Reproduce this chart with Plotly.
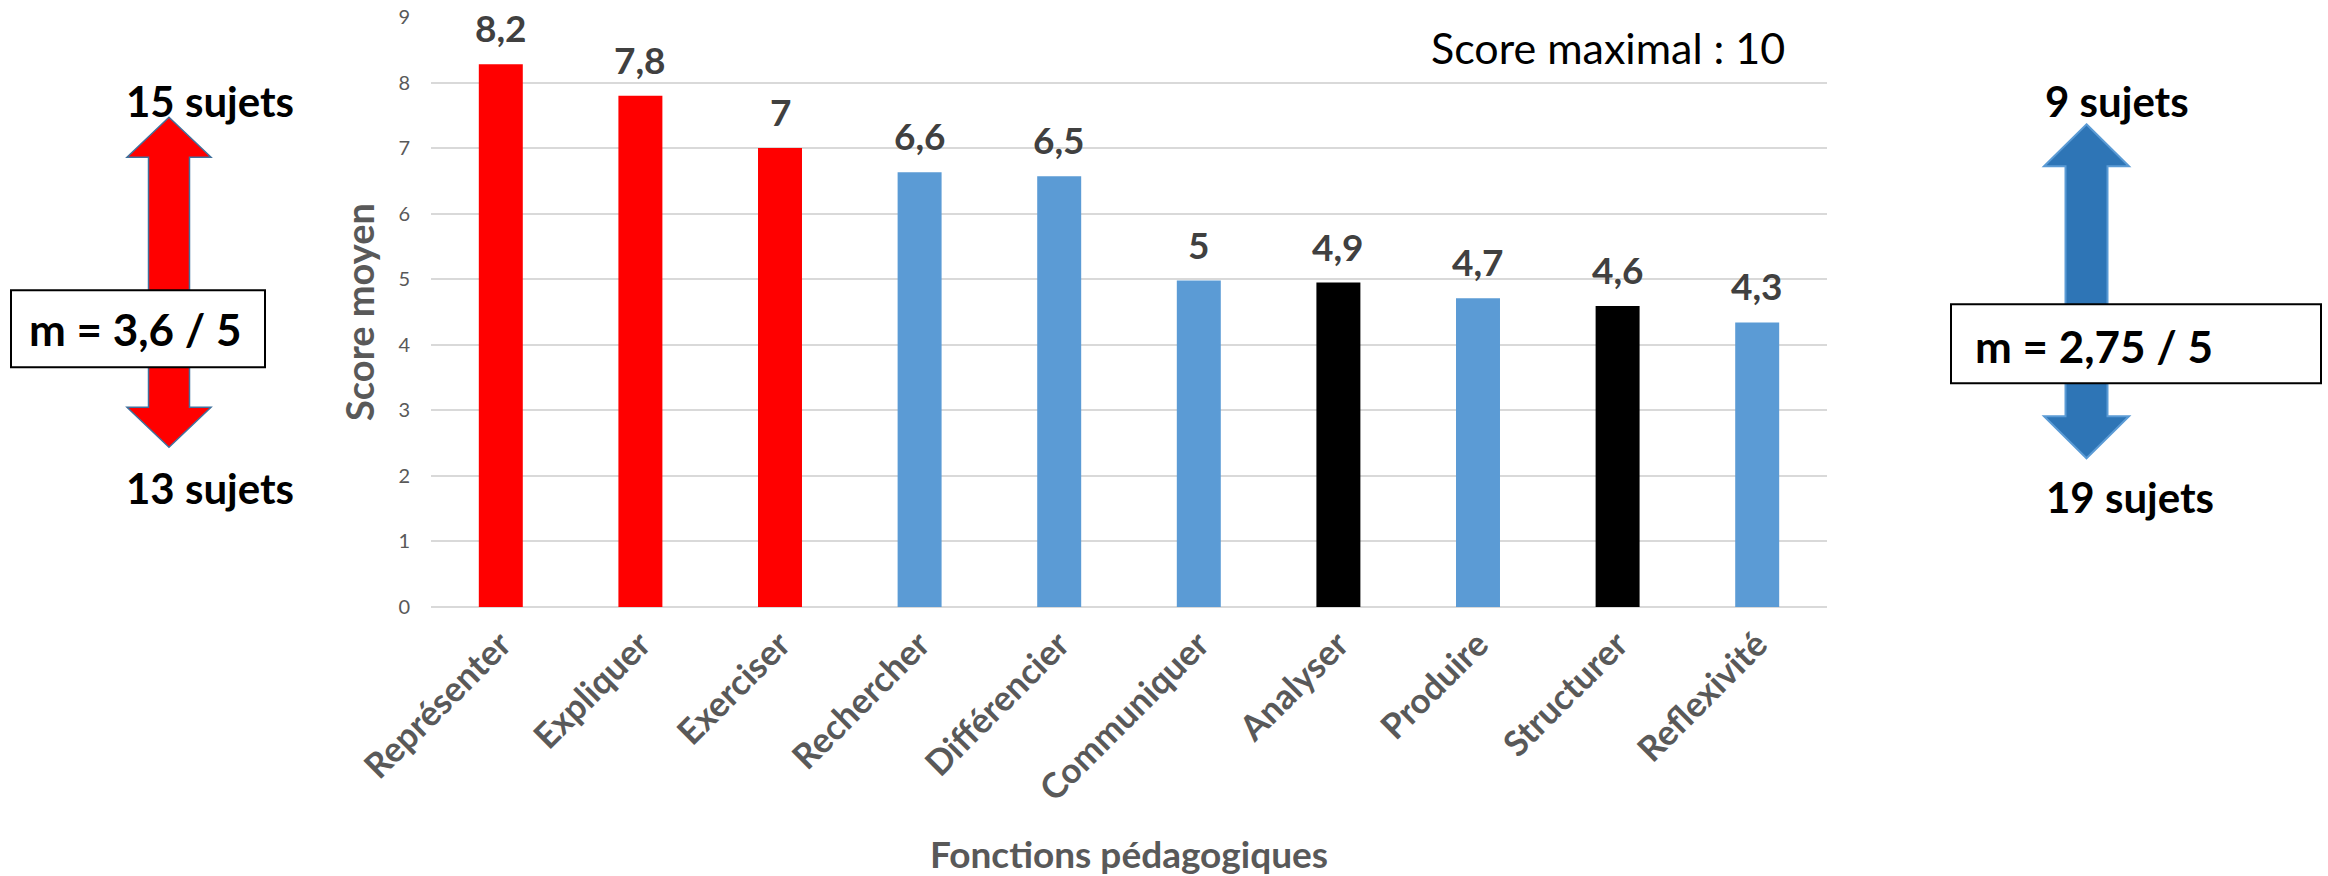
import plotly.graph_objects as go

# ---------------- data ----------------
categories = ["Représenter", "Expliquer", "Exerciser", "Rechercher", "Différencier",
              "Communiquer", "Analyser", "Produire", "Structurer", "Reflexivité"]
scores = [8.28, 7.80, 7.00, 6.63, 6.57, 4.98, 4.95, 4.71, 4.59, 4.34]
score_labels = ["8,2", "7,8", "7", "6,6", "6,5", "5", "4,9", "4,7", "4,6", "4,3"]
bar_colors = ["#FF0000", "#FF0000", "#FF0000", "#5B9BD5", "#5B9BD5",
              "#5B9BD5", "#000000", "#5B9BD5", "#000000", "#5B9BD5"]
y_ticks = [0, 1, 2, 3, 4, 5, 6, 7, 8, 9]

left_top_label = "15 sujets"
left_bottom_label = "13 sujets"
left_mean_label = "m = 3,6 / 5"
right_top_label = "9 sujets"
right_bottom_label = "19 sujets"
right_mean_label = "m = 2,75 / 5"
note_label = "Score maximal : 10"
x_title = "Fonctions pédagogiques"
y_title = "Score moyen"

# ---------------- layout geometry (pixels) ----------------
W, H = 2328, 876
L, R, T, B = 431, 1827, 16.7, 606.7


def px(x):
    return (x - L) / (R - L)


def py(y):
    return (B - y) / (B - T)


def double_arrow(cx, sw, hw, tip_top, base_top, base_bot, tip_bot):
    pts = [(cx, tip_top), (cx + hw, base_top), (cx + sw, base_top), (cx + sw, base_bot),
           (cx + hw, base_bot), (cx, tip_bot), (cx - hw, base_bot), (cx - sw, base_bot),
           (cx - sw, base_top), (cx - hw, base_top)]
    return "M " + " L ".join(f"{px(a):.5f},{py(b):.5f}" for a, b in pts) + " Z"


FONT = "Lato"
GREY = "#595959"

fig = go.Figure()
fig.add_trace(go.Bar(
    x=categories, y=scores,
    marker=dict(color=bar_colors, line=dict(width=0)),
    cliponaxis=False, showlegend=False, hoverinfo="x+y",
))

annotations = []
for c, v, t in zip(categories, scores, score_labels):
    annotations.append(dict(x=c, y=v, xref="x", yref="y", text=t, showarrow=False,
                            yanchor="bottom", yshift=12,
                            font=dict(family=FONT, size=37, color="#404040", weight="bold")))

annotations.append(dict(x=px(1787), y=py(47), xref="paper", yref="paper", text=note_label,
                        showarrow=False, xanchor="right", yanchor="middle",
                        font=dict(family=FONT, size=43, color="#000000")))

side = dict(family=FONT, size=42, color="#000000", weight="bold")
for txt, x, y in [(left_top_label, 210, 101), (left_bottom_label, 210, 488),
                  (right_top_label, 2117, 101), (right_bottom_label, 2130, 497)]:
    annotations.append(dict(x=px(x), y=py(y), xref="paper", yref="paper", text=txt,
                            showarrow=False, xanchor="center", yanchor="middle", font=side))

box_font = dict(family=FONT, size=44, color="#000000", weight="bold")
annotations.append(dict(x=px(135), y=py(329), xref="paper", yref="paper", text=left_mean_label,
                        showarrow=False, xanchor="center", yanchor="middle", font=box_font))
annotations.append(dict(x=px(1973), y=py(346), xref="paper", yref="paper", text=right_mean_label,
                        showarrow=False, xanchor="left", yanchor="middle", font=box_font))

shapes = [
    dict(type="path", xref="paper", yref="paper",
         path=double_arrow(169, 20.5, 42, 117, 157, 407, 447),
         fillcolor="#FF0000", line=dict(color="#41719C", width=1.5), layer="above"),
    dict(type="path", xref="paper", yref="paper",
         path=double_arrow(2086.5, 21, 42.5, 124, 166, 416, 458),
         fillcolor="#2E75B6", line=dict(color="#5B9BD5", width=2), layer="above"),
    dict(type="rect", xref="paper", yref="paper", x0=px(11), x1=px(265), y0=py(367), y1=py(290),
         fillcolor="#FFFFFF", line=dict(color="#000000", width=2), layer="above"),
    dict(type="rect", xref="paper", yref="paper", x0=px(1951), x1=px(2321), y0=py(383), y1=py(304),
         fillcolor="#FFFFFF", line=dict(color="#000000", width=2), layer="above"),
]

fig.update_layout(
    width=W, height=H,
    margin=dict(l=L, r=W - R, t=T, b=H - B, autoexpand=False),
    paper_bgcolor="white", plot_bgcolor="white",
    bargap=0.685, showlegend=False,
    annotations=annotations, shapes=shapes,
    font=dict(family=FONT),
)
fig.update_xaxes(
    type="category", tickangle=-45, showgrid=False, showline=False, zeroline=False, ticks="",
    ticklabelstandoff=9,
    tickfont=dict(family=FONT, size=35, color=GREY, weight="bold"),
    title=dict(text=x_title, standoff=40,
               font=dict(family=FONT, size=37, color=GREY, weight="bold")),
    automargin=False,
)
fig.update_yaxes(
    range=[0, 9], tickvals=y_ticks, showgrid=True, gridcolor="#D9D9D9", gridwidth=1.5,
    zeroline=True, zerolinecolor="#D9D9D9", zerolinewidth=1.5, showline=False, ticks="",
    ticklabelstandoff=20,
    tickfont=dict(family=FONT, size=20, color=GREY),
    title=dict(text=y_title, standoff=12,
               font=dict(family=FONT, size=38, color=GREY, weight="bold")),
    automargin=False,
)

fig.write_html("out.html", config={"displayModeBar": False},
               post_script="document.body.style.margin='0';document.body.style.overflow='hidden';")
